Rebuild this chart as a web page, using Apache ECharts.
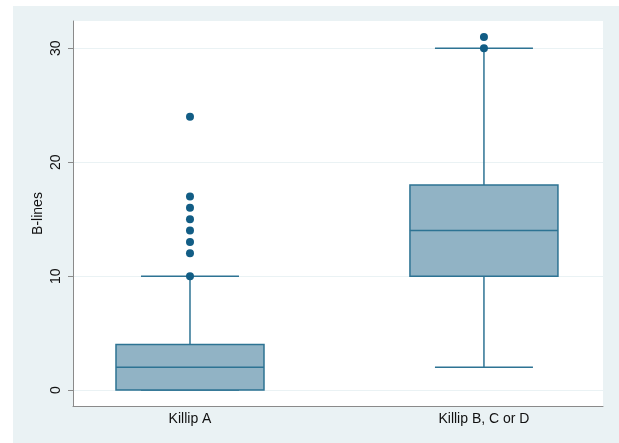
<!DOCTYPE html>
<html>
<head>
<meta charset="utf-8">
<script src="https://cdn.jsdelivr.net/npm/echarts@6/dist/echarts.min.js"></script>
<style>
  html, body { margin: 0; padding: 0; background: #ffffff; }
  #chart { position: absolute; left: 13px; top: 6px; width: 606px; height: 437px; }
</style>
</head>
<body>
<div id="chart"></div>
<script>
const categories = ["Killip A", "Killip B, C or D"];
// [min whisker, Q1, median, Q3, max whisker]
const boxStats = [
  [0, 0, 2, 4, 10],
  [2, 10, 14, 18, 30]
];
const outliersA = [10, 12, 13, 14, 15, 16, 17, 24];
const outliersB = [30, 31];
const yTicks = [0, 10, 20, 30];

const boxColor = "#91b3c5";
const lineColor = "#2d7393";
const dotColor = "#125d85";
const axisColor = "#8a8a8a";
const font = "Liberation Sans, Arial, sans-serif";

const chart = echarts.init(document.getElementById("chart"));

const boxData = boxStats.map((s, i) => [i, ...s]);
const outlierData = [
  ...outliersA.map((v) => [0, v]),
  ...outliersB.map((v) => [1, v])
];

chart.setOption({
  animation: false,
  backgroundColor: "#eaf2f4",
  textStyle: { fontFamily: font },
  grid: { left: 60, right: 16, top: 15, bottom: 37, show: true, backgroundColor: "#ffffff", borderWidth: 0 },
  xAxis: {
    type: "value", min: -0.398, max: 1.405,
    axisLine: { show: true, onZero: false, lineStyle: { color: axisColor, width: 1 } },
    axisTick: { show: false },
    splitLine: { show: false },
    axisLabel: {
      customValues: categories.map((c, i) => i),
      formatter: (v) => categories[Math.round(v)],
      color: "#111", fontSize: 14, margin: 6, fontFamily: font
    }
  },
  yAxis: {
    type: "value", min: -1.4, max: 32.4,
    name: "B-lines", nameLocation: "middle", nameGap: 28, nameRotate: 90, nameMoveOverlap: false,
    nameTextStyle: { color: "#111", fontSize: 14, fontFamily: font },
    axisLine: { show: true, onZero: false, lineStyle: { color: axisColor, width: 1 } },
    axisTick: { show: true, length: 5, customValues: yTicks, lineStyle: { color: axisColor } },
    axisLabel: { customValues: yTicks, rotate: 90, margin: 10, color: "#111", fontSize: 14, fontFamily: font },
    splitLine: { show: true, lineStyle: { color: "#eaf2f4", width: 1 } }
  },
  series: [
    {
      type: "custom",
      data: boxData,
      renderItem: (params, api) => {
        const x = api.value(0);
        const pMin = api.coord([x, api.value(1)]);
        const pQ1 = api.coord([x, api.value(2)]);
        const pMed = api.coord([x, api.value(3)]);
        const pQ3 = api.coord([x, api.value(4)]);
        const pMax = api.coord([x, api.value(5)]);
        const cx = pMed[0];
        const boxHalf = 74;
        const capHalf = 49;
        const stroke = { stroke: lineColor, lineWidth: 1.5 };
        return {
          type: "group",
          children: [
            { type: "line", shape: { x1: cx, y1: pQ3[1], x2: cx, y2: pMax[1] }, style: stroke },
            { type: "line", shape: { x1: cx, y1: pQ1[1], x2: cx, y2: pMin[1] }, style: stroke },
            { type: "line", shape: { x1: cx - capHalf, y1: pMax[1], x2: cx + capHalf, y2: pMax[1] }, style: stroke },
            { type: "line", shape: { x1: cx - capHalf, y1: pMin[1], x2: cx + capHalf, y2: pMin[1] }, style: stroke },
            {
              type: "rect",
              shape: { x: cx - boxHalf, y: pQ3[1], width: boxHalf * 2, height: pQ1[1] - pQ3[1] },
              style: { fill: boxColor, stroke: lineColor, lineWidth: 1.5 }
            },
            { type: "line", shape: { x1: cx - boxHalf, y1: pMed[1], x2: cx + boxHalf, y2: pMed[1] }, style: stroke }
          ]
        };
      }
    },
    {
      type: "scatter",
      data: outlierData,
      symbol: "circle",
      symbolSize: 8,
      itemStyle: { color: dotColor, opacity: 1 },
      z: 5
    }
  ]
});
</script>
</body>
</html>
